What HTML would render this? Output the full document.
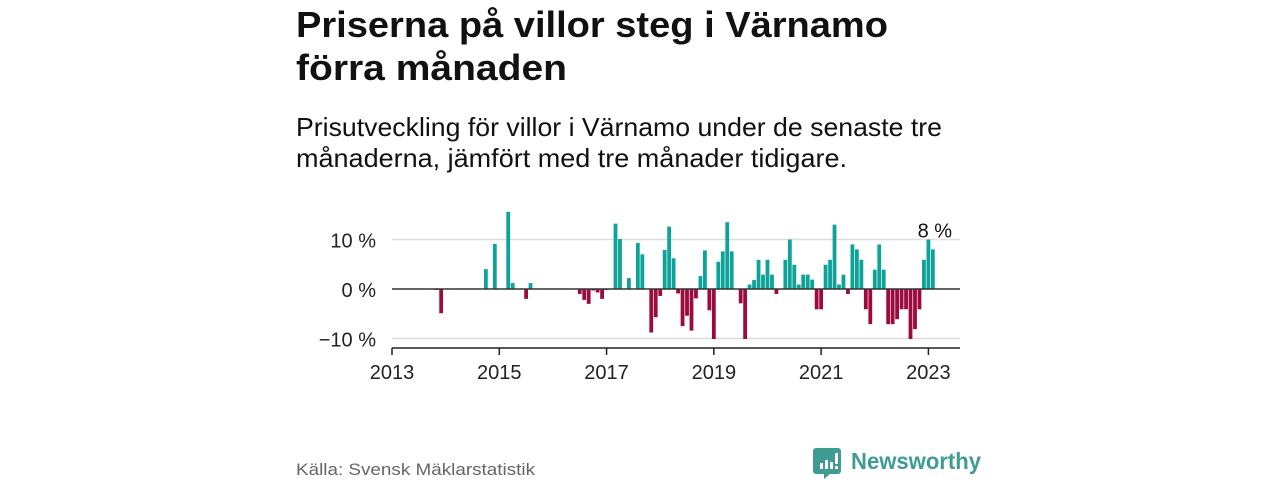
<!DOCTYPE html>
<html><head><meta charset="utf-8"><style>
html,body{margin:0;padding:0;background:#fff;}
svg{display:block;font-family:"Liberation Sans",sans-serif;}
</style></head><body>
<svg id="chart" width="1280" height="480" viewBox="0 0 1280 480">
<text x="296" y="37" font-size="36" font-weight="bold" fill="#111" textLength="592" lengthAdjust="spacingAndGlyphs">Priserna på villor steg i Värnamo</text>
<text x="296" y="80" font-size="36" font-weight="bold" fill="#111" textLength="271" lengthAdjust="spacingAndGlyphs">förra månaden</text>
<text x="296" y="136" font-size="26" fill="#111" textLength="646" lengthAdjust="spacingAndGlyphs">Prisutveckling för villor i Värnamo under de senaste tre</text>
<text x="296" y="167" font-size="26" fill="#111" textLength="551" lengthAdjust="spacingAndGlyphs">månaderna, jämfört med tre månader tidigare.</text>
<g id="plot"></g>
<text x="296" y="475" font-size="17" fill="#666" textLength="239" lengthAdjust="spacingAndGlyphs">Källa: Svensk Mäklarstatistik</text>
<g>
<path d="M816 448 h22 a3 3 0 0 1 3 3 v20 a3 3 0 0 1 -3 3 h-8 l-6 5 v-5 h-8 a3 3 0 0 1 -3 -3 v-20 a3 3 0 0 1 3 -3z" fill="#3f9c92"/>
<rect x="820" y="463" width="3" height="6" fill="#fff"/><rect x="825" y="460" width="3" height="9" fill="#fff"/><rect x="830" y="462" width="3" height="7" fill="#fff"/><rect x="835" y="453" width="3" height="11" fill="#fff"/><rect x="835" y="466" width="3" height="3" fill="#fff"/>
<text x="851" y="469" font-size="23" font-weight="bold" fill="#3f9c92" textLength="130" lengthAdjust="spacingAndGlyphs">Newsworthy</text>
</g>
</svg>
<script>
// monthly values starting Jan 2013 (index 0), null = no bar
const startYear = 2013;
const values = [null,null,null,null,null,null,null,null,null,null,-0.2,-4.9,
null,null,null,null,null,null,null,null,null,4.0,null,9.1,
null,null,15.6,1.2,null,null,-2.0,1.2,null,null,null,null,
null,null,null,null,null,null,-1.0,-2.2,-3.0,-0.3,-0.7,-2.0,
-0.2,null,13.2,10.1,null,2.2,null,9.3,7.0,null,-8.8,-5.7,
-1.4,7.9,12.6,6.2,-0.9,-7.5,-5.4,-8.4,-1.9,2.6,7.8,-4.3,
-10.1,5.5,7.6,13.5,7.6,null,-2.9,-10.1,0.9,1.8,5.9,2.9,
5.9,2.9,-1.0,null,5.9,10.0,4.9,0.9,2.9,2.9,1.9,-4.1,
-4.1,4.9,5.9,13.0,0.9,2.9,-1.0,9.0,8.0,5.9,-4.1,-7.1,
3.9,9.0,3.9,-7.1,-7.1,-6.1,-4.1,-4.1,-10.1,-8.1,-4.1,5.9,
10.0,8.0];
const yTicks = [10, 0, -10];
const yTickLabels = ["10 %", "0 %", "\u221210 %"];
const xTicks = [2013, 2015, 2017, 2019, 2021, 2023];
const xTickLabels = ["2013", "2015", "2017", "2019", "2021", "2023"];
const lastLabel = "8 %";

const NS = "http://www.w3.org/2000/svg";
const g = document.getElementById("plot");
const X0 = 392, X1 = 960, PX_MONTH = 4.47;
const xm = m => X0 + m * PX_MONTH;
const xy = yr => xm((yr - startYear) * 12);
const Y0 = 289, PX_PCT = 4.95;
const y = v => Y0 - v * PX_PCT;
function mk(tag, attrs) { const e = document.createElementNS(NS, tag); for (const k in attrs) e.setAttribute(k, attrs[k]); g.appendChild(e); return e; }

yTicks.forEach((t, i) => {
  if (t !== 0) {
    const l = mk("line", {x1: X0, x2: X1, y1: y(t), y2: y(t), stroke: "#dcdcdc", "stroke-width": 1.5});
    
    
  }
  const tx = mk("text", {x: 376, y: y(t) + 8, "text-anchor": "end", "font-size": 20, fill: "#222"});
  tx.textContent = yTickLabels[i];
  
  
});

values.forEach((v, i) => {
  if (v === null) return;
  const top = Math.min(y(v), Y0), h = Math.abs(y(v) - Y0);
  const r = mk("rect", {x: xm(i) - 1.9, y: top, width: 3.8, height: Math.max(h, 0.8), fill: v >= 0 ? "#0ea398" : "#9c0a3e"});
  
  
});

const zl = mk("line", {x1: X0, x2: X1, y1: Y0, y2: Y0, stroke: "#333", "stroke-width": 1.5});



const ax = mk("line", {x1: X0, x2: X1, y1: 348, y2: 348, stroke: "#222", "stroke-width": 1.5});


xTicks.forEach((t, i) => {
  const tk = mk("line", {x1: xy(t), x2: xy(t), y1: 348, y2: 355, stroke: "#222", "stroke-width": 1.5});
  
  
  const tx = mk("text", {x: xy(t), y: 379, "text-anchor": "middle", "font-size": 20, fill: "#222"});
  tx.textContent = xTickLabels[i];
  
  
});

const li = values.length - 1;
const lbl = mk("text", {x: xm(li) + 2, y: y(Math.max(values[li], 10)) - 2, "text-anchor": "middle", "font-size": 20, fill: "#111", stroke: "#fff", "stroke-width": 4, "paint-order": "stroke"});
lbl.textContent = lastLabel;


</script>
</body></html>
